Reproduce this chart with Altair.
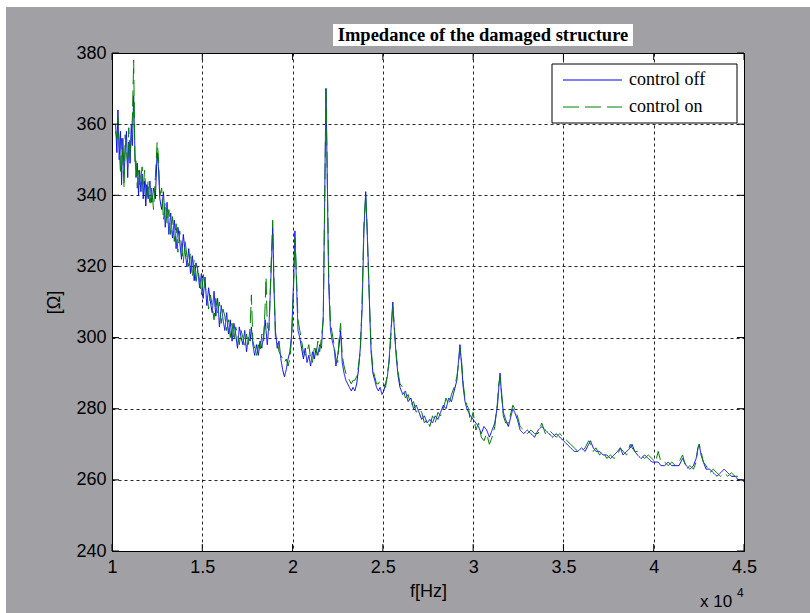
import altair as alt
import pandas as pd

# ---- data (frequency in units of 10^4 Hz, impedance in Ohm) ----
freq = [
    1.020, 1.027, 1.033, 1.040, 1.047, 1.053, 1.060, 1.067, 1.073, 1.080,
    1.087, 1.093, 1.100, 1.107, 1.113, 1.120, 1.127, 1.133, 1.140, 1.147,
    1.153, 1.160, 1.167, 1.173, 1.180, 1.187, 1.193, 1.200, 1.210, 1.220,
    1.230, 1.240, 1.250, 1.257, 1.265, 1.275, 1.285, 1.295, 1.305, 1.315,
    1.325, 1.335, 1.345, 1.355, 1.365, 1.375, 1.385, 1.395, 1.405, 1.415,
    1.425, 1.435, 1.445, 1.455, 1.465, 1.475, 1.485, 1.495, 1.505, 1.515,
    1.525, 1.535, 1.545, 1.555, 1.565, 1.575, 1.585, 1.595, 1.605, 1.615,
    1.625, 1.635, 1.645, 1.655, 1.665, 1.675, 1.685, 1.695, 1.705, 1.715,
    1.725, 1.735, 1.745, 1.755, 1.765, 1.772, 1.780, 1.790, 1.800, 1.810,
    1.820, 1.830, 1.840, 1.848, 1.853, 1.860, 1.870, 1.880, 1.890, 1.897,
    1.905, 1.915, 1.925, 1.935, 1.945, 1.955, 1.965, 1.975, 1.985, 1.995,
    2.005, 2.013, 2.020, 2.030, 2.040, 2.050, 2.060, 2.070, 2.080, 2.090,
    2.100, 2.110, 2.120, 2.130, 2.140, 2.150, 2.160, 2.170, 2.178, 2.185,
    2.192, 2.200, 2.210, 2.220, 2.230, 2.240, 2.250, 2.258, 2.266, 2.275,
    2.285, 2.295, 2.305, 2.315, 2.325, 2.335, 2.345, 2.355, 2.365, 2.375,
    2.385, 2.395, 2.405, 2.413, 2.420, 2.428, 2.435, 2.445, 2.455, 2.465,
    2.475, 2.485, 2.495, 2.505, 2.515, 2.525, 2.535, 2.545, 2.555, 2.565,
    2.575, 2.585, 2.595, 2.610, 2.625, 2.640, 2.655, 2.670, 2.685, 2.700,
    2.715, 2.730, 2.745, 2.760, 2.775, 2.790, 2.805, 2.820, 2.835, 2.850,
    2.865, 2.880, 2.895, 2.910, 2.920, 2.927, 2.935, 2.945, 2.955, 2.965,
    2.975, 2.985, 3.000, 3.015, 3.030, 3.045, 3.060, 3.075, 3.090, 3.105,
    3.120, 3.135, 3.142, 3.149, 3.157, 3.167, 3.180, 3.195, 3.210, 3.220,
    3.230, 3.245, 3.260, 3.280, 3.300, 3.320, 3.340, 3.360, 3.380, 3.400,
    3.420, 3.440, 3.460, 3.480, 3.500, 3.520, 3.540, 3.560, 3.580, 3.600,
    3.620, 3.640, 3.650, 3.665, 3.680, 3.700, 3.720, 3.740, 3.760, 3.780,
    3.800, 3.815, 3.830, 3.850, 3.870, 3.880, 3.895, 3.910, 3.930, 3.950,
    3.970, 3.990, 4.010, 4.025, 4.040, 4.060, 4.080, 4.100, 4.120, 4.140,
    4.160, 4.180, 4.200, 4.220, 4.235, 4.245, 4.252, 4.262, 4.275, 4.290,
    4.310, 4.330, 4.350, 4.370, 4.390, 4.410, 4.430, 4.450, 4.470, 4.490,
    4.500,
]

z_off = [
    360, 352, 364, 350, 358, 343, 356, 346, 352, 358,
    345, 355, 349, 360, 354, 368, 352, 345, 349, 340,
    347, 341, 346, 339, 344, 337, 343, 339, 344, 338,
    342, 339, 352, 348, 339, 336, 341, 331, 338, 329,
    335, 328, 333, 325, 331, 327, 322, 329, 324, 320,
    325, 318, 323, 316, 321, 319, 314, 318, 311, 317,
    309, 314, 310, 307, 313, 306, 311, 303, 309, 305,
    302, 307, 301, 305, 299, 304, 301, 297, 303, 300,
    298, 302, 296, 300, 299, 303, 298, 295, 298, 295,
    299, 297, 301, 305, 302, 298, 304, 317, 331, 314,
    302, 297, 299, 294, 291, 289, 291, 294, 296, 301,
    315, 330, 318, 302, 300, 297, 294, 297, 293, 295,
    292, 296, 294, 297, 295, 298, 297, 306, 340, 370,
    345, 315, 302, 299, 297, 292, 295, 298, 302, 293,
    290, 288, 287, 286, 285, 286, 285, 287, 291, 297,
    308, 330, 341, 330, 320, 306, 296, 290, 288, 286,
    285, 286, 284, 285, 287, 289, 294, 302, 310, 301,
    294, 289, 286, 284, 285, 282, 283, 280, 281, 279,
    277, 278, 276, 277, 276, 278, 277, 279, 281, 280,
    283, 282, 285, 288, 294, 298, 293, 286, 282, 280,
    279, 278, 277, 276, 275, 273, 275, 274, 272, 274,
    276, 281, 286, 290, 284, 279, 277, 275, 278, 280,
    279, 277, 274, 273, 274, 273, 272, 274, 275, 274,
    273, 272, 273, 272, 271, 270, 269, 268, 268, 269,
    268, 270, 271, 269, 268, 268, 267, 267, 266, 267,
    268, 269, 267, 268, 269, 270, 268, 267, 266, 267,
    266, 265, 265, 265, 264, 264, 265, 264, 264, 264,
    266, 264, 263, 264, 266, 269, 270, 267, 265, 263,
    263, 262, 261, 262, 263, 262, 261, 261, 260, 260,
    259.5,
]

z_on = [
    358, 356, 362, 354, 346, 356, 350, 342, 357, 353,
    348, 359, 351, 356, 362, 378, 349, 350, 342, 347,
    343, 345, 348, 341, 347, 342, 339, 344, 337, 342,
    336, 345, 355, 351, 340, 342, 333, 338, 332, 336,
    329, 334, 327, 332, 324, 330, 326, 321, 327, 323,
    320, 324, 317, 322, 315, 320, 316, 312, 318, 314,
    313, 308, 312, 309, 305, 311, 307, 310, 304, 308,
    306, 302, 305, 300, 304, 299, 303, 301, 298, 302,
    300, 297, 301, 298, 303, 312, 299, 297, 295, 298,
    296, 301, 299, 309, 317, 303, 302, 319, 333, 316,
    300, 299, 296, 295, 294, 293, 294, 292, 294, 300,
    313, 328, 320, 305, 302, 299, 296, 295, 296, 298,
    294, 293, 297, 295, 299, 296, 300, 305, 338, 370,
    347, 318, 304, 301, 298, 294, 293, 300, 304, 295,
    292, 290, 289, 288, 287, 288, 288, 289, 292, 296,
    310, 332, 340, 331, 318, 307, 297, 291, 289, 287,
    287, 288, 288, 287, 286, 290, 293, 301, 309, 302,
    295, 290, 287, 286, 283, 284, 281, 282, 279, 280,
    279, 276, 277, 275, 278, 276, 279, 278, 280, 283,
    281, 284, 286, 289, 293, 297, 294, 287, 283, 281,
    280, 276, 279, 274, 276, 272, 271, 273, 270, 272,
    275, 282, 287, 289, 285, 278, 276, 276, 279, 281,
    280, 278, 275, 274, 273, 274, 273, 273, 276, 273,
    274, 273, 272, 273, 272, 271, 270, 269, 268, 268,
    269, 271, 270, 268, 269, 267, 268, 266, 267, 266,
    267, 269, 268, 267, 270, 269, 268, 268, 267, 266,
    267, 266, 265, 268, 265, 265, 264, 265, 264, 265,
    267, 263, 264, 263, 265, 269, 270, 268, 265, 264,
    262, 263, 262, 261, 262, 261, 262, 261, 261, 260,
    259.5,
]

series_names = ["control off", "control on"]
series_colors = ["#0000ff", "#008000"]
series_dash = [[1, 0], [16, 6]]
x_ticks = [1, 1.5, 2, 2.5, 3, 3.5, 4, 4.5]
y_ticks = [240, 260, 280, 300, 320, 340, 360, 380]
title_text = "Impedance of the damaged structure"
x_title = "f[Hz]"
y_title = "[Ω]"
exp_base = "x 10"
exp_power = "4"

# ---- layout ----
W, H = 632, 498
SANS = "Liberation Sans"
SERIF = "Liberation Serif"
BG = "#a1a0a5"

rows = []
for f, a in zip(freq, z_off):
    rows.append({"f": f, "z": a, "s": series_names[0]})
for f, b in zip(freq, z_on):
    rows.append({"f": f, "z": b, "s": series_names[1]})
df = pd.DataFrame(rows)

xs = alt.Scale(domain=[1, 4.5], nice=False, zero=False)
ys = alt.Scale(domain=[240, 380], nice=False, zero=False)

x_axis = alt.Axis(
    values=x_ticks, labelExpr="'' + datum.value", title=x_title,
    labelFont=SANS, labelFontSize=18, labelColor="black", labelPadding=7,
    labelFlush=False, labelOverlap=False,
    ticks=False, domainColor="black", domainWidth=1,
    grid=True, gridColor="black", gridDash=[3, 3], gridOpacity=0.85, gridWidth=1,
    titleFont=SANS, titleFontSize=18, titleFontWeight="normal", titleColor="black",
    titleX=W / 2, titleY=40, titleBaseline="middle", titleAlign="center",
)
y_axis = alt.Axis(
    values=y_ticks, title=y_title,
    labelFont=SANS, labelFontSize=18, labelColor="black", labelPadding=6,
    labelFlush=False, labelOverlap=False,
    ticks=False, domainColor="black", domainWidth=1,
    grid=True, gridColor="black", gridDash=[3, 3], gridOpacity=0.85, gridWidth=1,
    titleFont=SANS, titleFontSize=18, titleFontWeight="normal", titleColor="black",
    titleX=-58, titleY=H / 2, titleBaseline="middle", titleAlign="center", titleAngle=-90,
)

lines = alt.Chart(df).mark_line(strokeWidth=1, clip=True).encode(
    x=alt.X("f:Q", scale=xs, axis=x_axis),
    y=alt.Y("z:Q", scale=ys, axis=y_axis),
    color=alt.Color("s:N", scale=alt.Scale(domain=series_names, range=series_colors), legend=None),
    strokeDash=alt.StrokeDash("s:N", scale=alt.Scale(domain=series_names, range=series_dash), legend=None),
)

xt = pd.DataFrame({"f": x_ticks})
yt = pd.DataFrame({"z": y_ticks})
TL = 7
tick_layers = [
    alt.Chart(xt).mark_rule(color="black", strokeWidth=1).encode(
        x=alt.X("f:Q", scale=xs, axis=x_axis), y=alt.value(H), y2=alt.value(H - TL)),
    alt.Chart(xt).mark_rule(color="black", strokeWidth=1).encode(
        x=alt.X("f:Q", scale=xs, axis=x_axis), y=alt.value(0), y2=alt.value(TL)),
    alt.Chart(yt).mark_rule(color="black", strokeWidth=1).encode(
        y=alt.Y("z:Q", scale=ys, axis=y_axis), x=alt.value(0), x2=alt.value(TL)),
    alt.Chart(yt).mark_rule(color="black", strokeWidth=1).encode(
        y=alt.Y("z:Q", scale=ys, axis=y_axis), x=alt.value(W), x2=alt.value(W - TL)),
]

one = alt.Data(values=[{"k": 0}])


def box(x, x2, y, y2, **kw):
    return alt.Chart(one).mark_rect(**kw).encode(
        x=alt.value(x), x2=alt.value(x2), y=alt.value(y), y2=alt.value(y2))


def label(txt, x, y, **kw):
    return alt.Chart(one).mark_text(text=txt, **kw).encode(x=alt.value(x), y=alt.value(y))


def hline(x, x2, y, **kw):
    return alt.Chart(one).mark_rule(**kw).encode(x=alt.value(x), x2=alt.value(x2), y=alt.value(y))


strips = [
    box(-112, -106, -53, H + 62, color="white"),
    box(-112, W + 66, -53, -46, color="white"),
]
title_layers = [
    box(221, 521, -29, -7, color="white"),
    label(title_text, 371, -12, font=SERIF, fontSize=18.5, fontWeight="bold",
          align="center", baseline="alphabetic", color="black"),
]
legend_layers = [
    box(440, 625, 11, 70, fill="white", stroke="black", strokeWidth=1),
    hline(451, 510, 27, color=series_colors[0], strokeWidth=1),
    hline(451, 510, 54, color=series_colors[1], strokeWidth=1, strokeDash=series_dash[1]),
    label(series_names[0], 517, 27, font=SERIF, fontSize=18, align="left",
          baseline="middle", color="black"),
    label(series_names[1], 517, 54, font=SERIF, fontSize=18, align="left",
          baseline="middle", color="black"),
]
exp_layers = [
    label(exp_base, 588, 549, font=SANS, fontSize=17, align="left",
          baseline="middle", color="black"),
    label(exp_power, 625, 540, font=SANS, fontSize=12, align="left",
          baseline="middle", color="black"),
]

chart = alt.layer(
    lines, *strips, *title_layers, *tick_layers, *legend_layers, *exp_layers
).properties(
    width=W, height=H,
    background=BG,
    padding={"left": 112, "top": 53, "right": 66, "bottom": 62},
    autosize=alt.AutoSizeParams(type="none"),
).configure_view(
    fill="white", stroke="black", strokeWidth=1,
)

chart.save("out.html", embed_options={"renderer": "svg", "actions": False})
